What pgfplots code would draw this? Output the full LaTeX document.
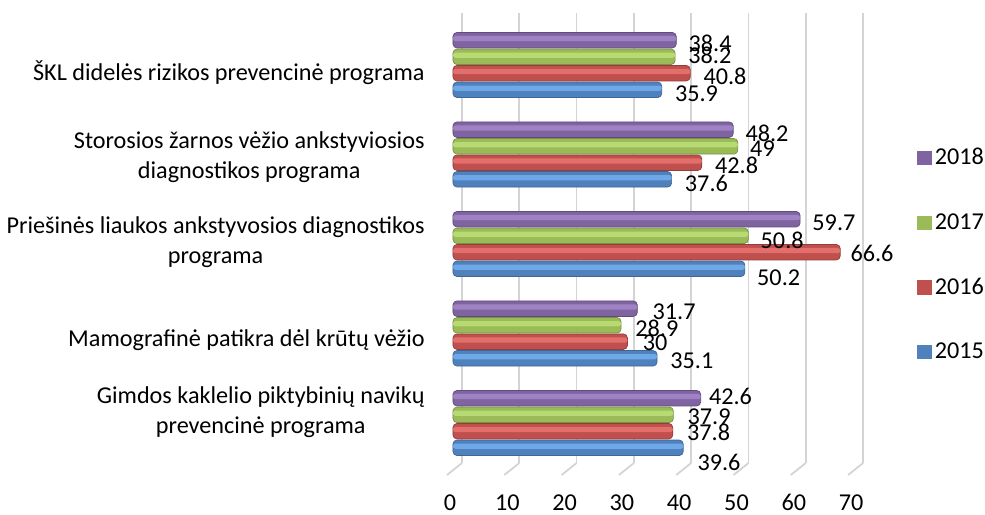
\documentclass[border=0pt]{standalone}
\usepackage{fontspec}
\setmainfont{Carlito}
\usepackage{pgfplots}
\pgfplotsset{compat=1.18}
\definecolor{c15}{HTML}{4F81BD}\definecolor{c15d}{HTML}{3D6699}\definecolor{c15l}{HTML}{6FA8E6}
\definecolor{c16}{HTML}{C0504D}\definecolor{c16d}{HTML}{973C3A}\definecolor{c16l}{HTML}{E26F6B}
\definecolor{c17}{HTML}{9BBB59}\definecolor{c17d}{HTML}{769340}\definecolor{c17l}{HTML}{B8DA72}
\definecolor{c18}{HTML}{8064A2}\definecolor{c18d}{HTML}{5F4B7C}\definecolor{c18l}{HTML}{9E82C2}
\pgfplotstableread{
v15 v16 v17 v18 c
39.6 37.8 37.9 42.6 0
35.1 30 28.9 31.7 1
50.2 66.6 50.8 59.7 2
37.6 42.8 49 48.2 3
35.9 40.8 38.2 38.4 4
}\hl
\pgfplotsset{
  barsty/.style n args={3}{xbar, bar width=7.75pt, bar shift=#1, draw=#2, line width=0.35pt,
    fill=#3, rounded corners=2pt,
    nodes near coords, point meta=explicit symbolic,
    visualization depends on={\thisrow{dx} \as \dx},
    visualization depends on={\thisrow{dy} \as \dy},
    every node near coord/.append style={anchor=west, inner sep=0pt, text=black,
      xshift=0.5pt*\dx, yshift=#1-0.5pt*\dy},
    legend image code/.code={\pgfsetcornersarced{\pgfpointorigin}%
      \pgfpathrectangle{\pgfpoint{0pt}{-3.6pt}}{\pgfpoint{7.2pt}{7.2pt}}%
      \pgfsetfillcolor{#3}\pgfusepath{fill}}},
  hlsty/.style n args={2}{xbar, bar width=2.6pt, bar shift=#1, draw=none, fill=#2,
    rounded corners=1.2pt, forget plot},
}
\begin{document}
\begin{tikzpicture}
\path[use as bounding box] (-224.75pt,-25.5pt) rectangle (267.75pt,231.5pt);
\begin{axis}[at={(0pt,0pt)}, anchor=south west, scale only axis,
  width=205.25pt, height=225pt,
  xmin=-0.6, xmax=70, ymin=-0.447, ymax=4.581, clip=false,
  font=\fontsize{12.1}{15}\selectfont,
  axis line style={draw=none}, tick style={draw=none}, major tick length=0pt,
  xtick={-0.516,9.339,19.194,29.049,38.904,48.759,58.614,68.469},
  xticklabels={0,10,20,30,40,50,60,70},
  xticklabel style={anchor=base, inner sep=0pt, yshift=-23.8pt},
  ytick={0.123,0.927,2.022,2.966,3.911},
  yticklabels={{Gimdos kaklelio piktybinių navikų\\prevencinė programa},
    {Mamografinė patikra dėl krūtų vėžio},
    {Priešinės liaukos ankstyvosios diagnostikos\\programa},
    {Storosios žarnos vėžio ankstyviosios\\diagnostikos programa},
    {ŠKL didelės rizikos prevencinė programa}},
  yticklabel style={align=center, anchor=east, inner sep=0pt, xshift=-12.25pt},
  reverse legend,
  legend style={at={(1.139,0.4622)}, anchor=west, draw=none, fill=none, inner sep=0pt,
    row sep=19.8pt, font=\fontsize{12.1}{13}\selectfont,
    nodes={inner sep=1.5pt}},
  legend cell align=left,
]
\pgfplotsinvokeforeach{1.548,11.403,21.258,31.113,40.968,50.823,60.678,70.533}{
  \draw[black!17, line width=0.9pt] (axis cs:#1,-0.447) -- (axis cs:#1,4.581);
  \draw[black!17, line width=0.9pt] (axis cs:#1,-0.447) -- ++(-7.5pt,-6pt);
}
\addplot[barsty={-12.4pt}{c15d}{c15}] table[x=v, y=c, meta=lab] {
v c lab dx dy
39.6 0 39.6 14 15
35.1 1 35.1 13 2
50.2 2 50.2 12 8.5
37.6 3 37.6 13 4
35.9 4 35.9 13 3.5
};
\addlegendentry{2015}
\addplot[barsty={-4.1pt}{c16d}{c16}] table[x=v, y=c, meta=lab] {
v c lab dx dy
37.8 0 37.8 14 1
30 1 30 15 1
66.6 2 66.6 10 1
42.8 3 42.8 13 3
40.8 4 40.8 13 3
};
\addlegendentry{2016}
\addplot[barsty={4.1pt}{c17d}{c17}] table[x=v, y=c, meta=lab] {
v c lab dx dy
37.9 0 37.9 14 2
28.9 1 28.9 14 3
50.8 2 50.8 12 5
49 3 49 12 2
38.2 4 38.2 13 -1.5
};
\addlegendentry{2017}
\addplot[barsty={12.4pt}{c18d}{c18}] table[x=v, y=c, meta=lab] {
v c lab dx dy
42.6 0 42.6 8 -1.5
31.7 1 31.7 15 3
59.7 2 59.7 12 3.5
48.2 3 48.2 12 4
38.4 4 38.4 12 3.5
};
\addlegendentry{2018}
\addplot[hlsty={-11.6pt}{c15l}] table[x=v15, y=c] {\hl};
\addplot[hlsty={-3.3pt}{c16l}] table[x=v16, y=c] {\hl};
\addplot[hlsty={4.9pt}{c17l}] table[x=v17, y=c] {\hl};
\addplot[hlsty={13.2pt}{c18l}] table[x=v18, y=c] {\hl};
\end{axis}
\end{tikzpicture}
\end{document}
